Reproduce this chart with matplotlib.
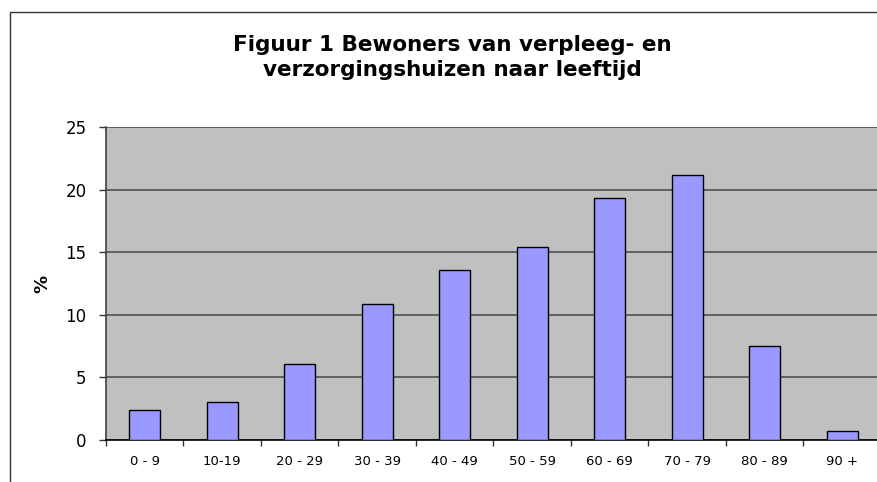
import matplotlib
matplotlib.use("Agg")
import matplotlib.pyplot as plt
from matplotlib.patches import Rectangle
import numpy as np

# data
age_groups = ['0 - 9', '10-19', '20 - 29', '30 - 39', '40 - 49',
              '50 - 59', '60 - 69', '70 - 79', '80 - 89', '90 +']
percentages = [2.4, 3.0, 6.1, 10.9, 13.6, 15.4, 19.3, 21.2, 7.5, 0.7]
y_ticks = [0, 5, 10, 15, 20, 25]

fig = plt.figure(figsize=(8.78, 4.82), dpi=100)

# chart border (cut off at right and bottom like the reference)
fig.patches.append(Rectangle((0.0114, -0.05), 1.1, 0.9751 + 0.05,
                             transform=fig.transFigure, fill=False,
                             edgecolor='#333333', linewidth=1.0, clip_on=False))

ax = fig.add_axes([0.1207, 0.0871, 0.8827, 0.6494])
ax.set_facecolor('#C0C0C0')

x = np.arange(len(age_groups))
ax.bar(x, percentages, width=0.4, color='#9999FF', edgecolor='black',
       linewidth=1.0, zorder=3)

ax.set_xlim(-0.5, len(age_groups) - 0.5)
ax.set_ylim(0, 25)
ax.set_yticks(y_ticks)
ax.yaxis.grid(True, color='#505050', linewidth=1.2, zorder=1)
ax.set_axisbelow(True)

# ticks between categories, labels in the middle
ax.set_xticks(np.arange(len(age_groups) + 1) - 0.5)
ax.set_xticklabels([])
ax.set_xticks(x, minor=True)
ax.set_xticklabels(age_groups, minor=True, fontsize=9.5)
ax.tick_params(axis='x', which='major', direction='out', length=4, width=1, color='#333333')
ax.tick_params(axis='x', which='minor', length=0, pad=11)
ax.tick_params(axis='y', direction='out', length=5, width=1, color='#333333',
               labelsize=12, pad=9)

for side in ['top', 'right']:
    ax.spines[side].set_visible(False)
ax.spines['left'].set_color('#404040')
ax.spines['left'].set_linewidth(1.2)
ax.spines['bottom'].set_color('black')
ax.spines['bottom'].set_linewidth(1.2)

ax.set_ylabel('%', fontsize=13, fontweight='bold')
ax.yaxis.set_label_coords(-0.07, 0.5)

fig.text(0.515, 0.88, 'Figuur 1 Bewoners van verpleeg- en\nverzorgingshuizen naar leeftijd',
         ha='center', va='center', fontsize=15.5, fontweight='bold',
         linespacing=1.3)

fig.savefig('out.png', dpi=100)
